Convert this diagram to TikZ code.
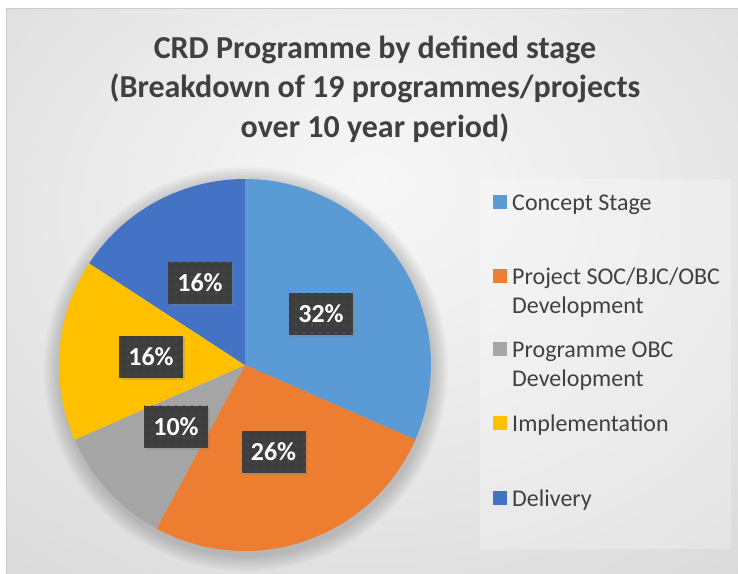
\documentclass[tikz,border=0pt]{standalone}
\usepackage{fontspec}
\setmainfont{Carlito}
\usetikzlibrary{shadows,patterns.meta}
\definecolor{cConcept}{HTML}{5B9BD5}
\definecolor{cProject}{HTML}{ED7D31}
\definecolor{cProg}{HTML}{A5A5A5}
\definecolor{cImpl}{HTML}{FFC000}
\definecolor{cDeliv}{HTML}{4472C4}
\definecolor{txt}{HTML}{404040}
\definecolor{lblbg}{HTML}{3E3E3E}
\pgfdeclareradialshading{chartbg}{\pgfpoint{0bp}{10bp}}{color(0bp)=(white!97!black); color(22bp)=(white!91!black); color(50bp)=(white!82!black); color(72bp)=(white!76!black)}
\tikzset{
  pct/.style={minimum width=64pt, minimum height=42pt, inner sep=0pt, text=white,
    font=\fontsize{26}{30}\selectfont\bfseries,
    drop shadow={shadow xshift=2pt, shadow yshift=-2pt, opacity=0.3},
    preaction={fill=lblbg},
    pattern={Dots[distance=8pt, radius=1pt]}, pattern color=white!12!lblbg},
  legsq/.style={minimum size=14pt, inner sep=0pt},
  legtxt/.style={anchor=base west, inner sep=0pt, text=txt, font=\fontsize{24}{29}\selectfont},
  ttl/.style={anchor=base, inner sep=0pt, text=txt, font=\fontsize{32}{40}\selectfont\bfseries}
}
\begin{document}
\begin{tikzpicture}[x=1pt, y=-1pt]
\useasboundingbox (0,0) rectangle (738,573);
\fill[white] (0,0) rectangle (738,573);
\shade[shading=chartbg] (6,8) rectangle (738,573);
\draw[white!80!black, line width=0.6pt] (738,8) -- (6,8) -- (6,573);
% title
\node[ttl] (title1) at (375,58.5) {CRD Programme by defined stage};
\node[ttl] (title2) at (375,97.5) {(Breakdown of 19 programmes/projects};
\node[ttl] (title3) at (375,137) {over 10 year period)};
% pie shadow halo
\foreach \k in {1,...,8} {
  \fill[black, opacity=0.025] (246,369) circle[radius=186+2*\k];
}
% pie
\coordinate (c) at (245,365);
\def\R{186}
\fill[cConcept] (c) -- ++(-90:\R) arc[start angle=-90, end angle=23.684, radius=\R] -- cycle;
\fill[cProject] (c) -- ++(23.684:\R) arc[start angle=23.684, end angle=118.421, radius=\R] -- cycle;
\fill[cProg] (c) -- ++(118.421:\R) arc[start angle=118.421, end angle=156.316, radius=\R] -- cycle;
\fill[cImpl] (c) -- ++(156.316:\R) arc[start angle=156.316, end angle=213.158, radius=\R] -- cycle;
\fill[cDeliv] (c) -- ++(213.158:\R) arc[start angle=213.158, end angle=270, radius=\R] -- cycle;
% labels
\node[pct] (l1) at (321,314) {32\%};
\node[pct] (l2) at (273.5,451.5) {26\%};
\node[pct] (l3) at (176,426.5) {10\%};
\node[pct] (l4) at (151,356.5) {16\%};
\node[pct] (l5) at (200,282.5) {16\%};
% legend
\fill[white, fill opacity=0.25] (480,179) rectangle (731,549);
\node[legsq, fill=cConcept] (s1) at (500,202) {};
\node[legtxt] (t1) at (512,210) {Concept Stage};
\node[legsq, fill=cProject] (s2) at (500,276) {};
\node[legtxt] (t2a) at (512,284) {Project SOC/BJC/OBC};
\node[legtxt] (t2b) at (512,313) {Development};
\node[legsq, fill=cProg] (s3) at (500,349) {};
\node[legtxt] (t3a) at (512,357) {Programme OBC};
\node[legtxt] (t3b) at (512,386) {Development};
\node[legsq, fill=cImpl] (s4) at (500,423) {};
\node[legtxt] (t4) at (512,431) {Implementation};
\node[legsq, fill=cDeliv] (s5) at (500,498) {};
\node[legtxt] (t5) at (512,506) {Delivery};
\end{tikzpicture}
\end{document}
